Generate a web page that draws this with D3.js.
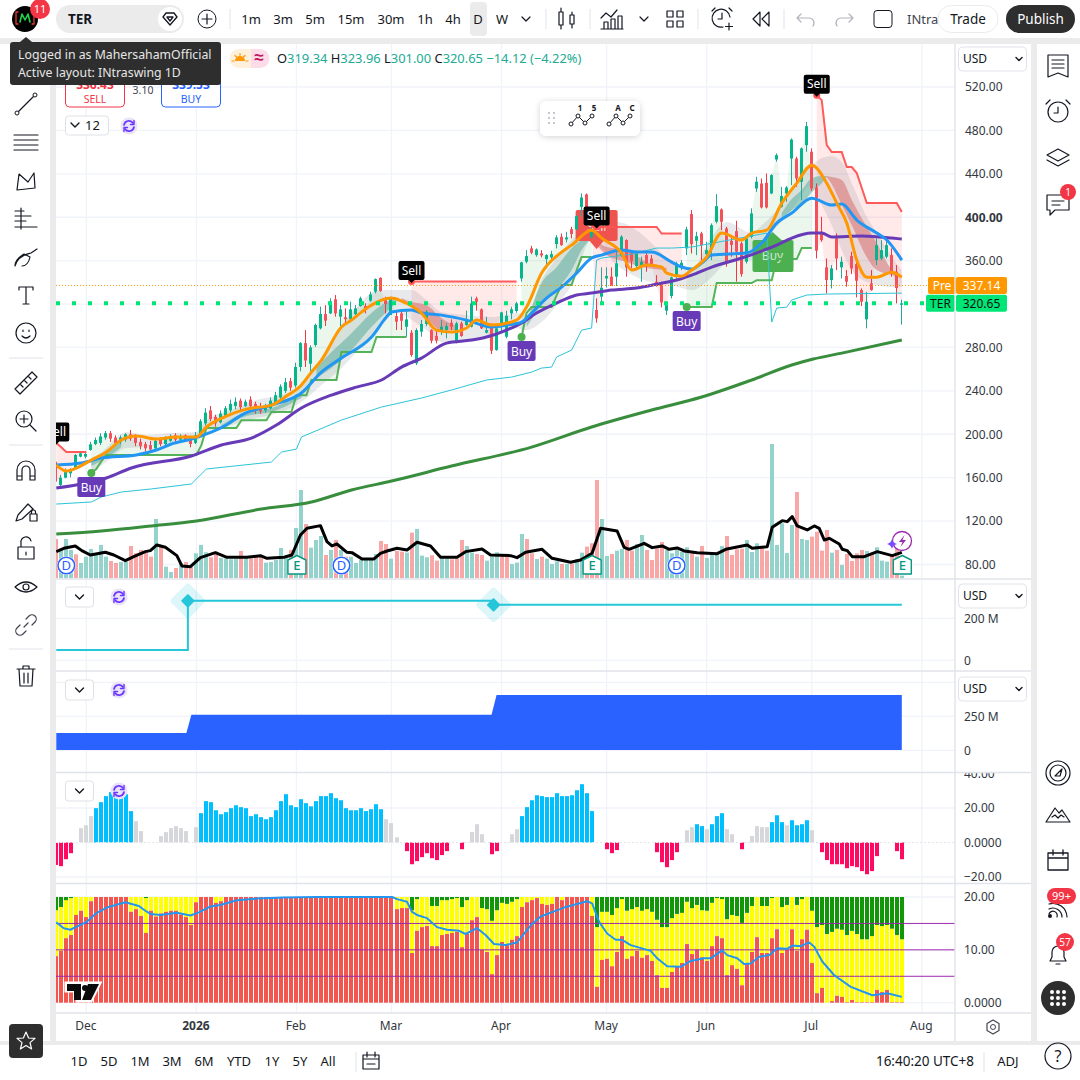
<!DOCTYPE html>
<html>
<head>
<meta charset="utf-8">
<script src="https://cdn.jsdelivr.net/npm/d3@7"></script>
<style>
  html, body { margin: 0; padding: 0; background: #fff; }
  svg { display: block; font-family: "Noto Sans", sans-serif; }
  .axis text { font-family: "Noto Sans", sans-serif; font-size: 12px; fill: #333740; }
  .axis path, .axis line { display: none; }
</style>
</head>
<body>
<svg id="canvas" width="1080" height="1080"></svg>
<script>
// ---------- chart data (bar 0 = first visible bar, bar 169 = last) ----------
const opens = [174.7,153.3,160,164,168.6,179.4,179.4,185.5,191,192,
  197,201,197,193,195,200,198,193,191,190,
  187,195,191,194,199,195,199,196,192,200,
  210,222,216,211,217,222,226,231,226,232,
  228,226,222,224,229,234,240,249,245,262,
  284,265,282.3,297.6,310.8,311.4,324.4,308.4,307.8,306,
  310.8,318.2,318.2,323.1,331.4,344.2,324.3,309.9,308.9,311.4,
  299.1,293.6,265.4,294.5,301.6,296,290.5,295.4,296,302.8,
  285.3,302.2,300.7,299.1,325.2,315.1,293.6,300.7,277.6,300.7,
  289.9,311.4,313.6,343.6,359,371.3,365.1,366.7,361.4,363,
  375.3,382,379.6,389,388.8,409.6,421,381.4,314.5,326.8,
  343.6,345.2,345.2,365.1,379,367.3,355,355.9,365.1,362,
  340.6,339,313.9,327.4,345.2,354.4,371.3,402.9,378.3,385.1,
  366,370.3,395.8,407.2,389.7,378.3,387.2,375.9,359,382,
  426.5,431.1,431.7,421.9,453.2,409.6,421.9,454.1,454.1,432.7,
  466.4,460.3,427.4,386.6,353.8,342.1,380.5,353.8,345.8,364.2,
  356.8,332.9,305.9,339,360.5,362,363.6,365.1,349.8,319.34];
const closes = [156.3,160,167,167.7,180.9,182.4,181.8,190.7,194.7,198,
  201,196,192,197,200,196,192,189,187,186,
  194,191,197,198,195,198,195,191,199,212,
  220,214,210,219,224,228,230,225,230,226,
  222,221,226,231,236,244,248,243,262,284,
  268,280,300.7,310.8,304.7,322.2,311.4,315.1,306,315.1,
  316,325.3,316,328.9,343,332,320,326.1,303.7,304.6,
  305.9,273,296,301.6,312.9,286.2,286.2,299.1,299.7,299.1,
  302.2,290.5,305.3,320.6,322.1,297.6,296,277,297.6,312.3,
  309.2,315.1,320.6,358.4,364.2,367.3,370.3,364.8,365.1,366,
  381.4,374.3,381.4,384.5,401,418.2,401,388.2,306.8,335,
  345.8,336.6,357.5,382,353.8,359.6,366.7,359,355,355.9,
  336.6,321.5,319,344.5,357.4,358,388.8,375.2,382.6,374.3,
  369.7,392.7,410.2,395.8,358,374.3,368.2,347.6,380.5,403.5,
  432.7,409,409,438.8,457.2,419.5,427.4,471.6,435.7,463.4,
  483.9,426.5,369.1,378.9,342.1,352.8,362,359,340.6,352.8,
  341.5,322.1,322.1,332.9,374.3,369.7,374.3,349.8,334.77,320.65];
const highs = [176,162.5,168.6,168.6,181.8,184,183,193,197,201,
  203,203,199,199,201,204,200,196,193,194,
  197,197,198,200,201,200,200,198,202,214,
  224,226,218,222,226,232,234,233,232,235,
  230,229,228,234,239,246,252,252,266,285,
  296,282,302,317.6,319,325.3,328.3,319.1,316,322.2,
  319.1,326.8,320.7,331.4,343.6,344.6,326.8,326.8,312.9,314.5,
  314.5,296,297.6,305.3,314.5,296.7,296,305.3,302.2,305.9,
  303.7,303.7,313.9,326.8,326.8,316,308.3,302.2,299.7,312.9,
  313.9,317.5,322.1,359,369.7,373.7,371.3,369.7,366,369.1,
  383.5,385,386.6,391.2,402,421.9,421.9,391.2,325.2,353.8,
  353.8,353.8,369.7,383.5,379.6,369.7,369.1,363.6,368.2,365.1,
  346.7,340.6,322.1,345.2,359,360.5,391.2,406.6,386.6,386.6,
  377.4,394.3,421.3,408.1,391.2,382,396.7,377.4,382,408.1,
  437.3,435.7,440.3,439.7,458.8,428,428.7,472.6,455.7,464.3,
  487.9,463.4,431.1,400.4,362,355.9,385.1,363.6,351.3,368.2,
  359,334.4,331.3,351.3,380.5,378.9,380.5,371.3,355.9,323.96];
const lows = [154.8,151.7,159.4,160.3,167.7,178.7,177.8,184.9,190,190,
  195,193,190,191,193,194,189,186,184,184,
  186,189,190,193,193,194,193,188,191,199,
  208,212,207,210,215,220,223,222,225,224,
  219,219,220,223,228,232,238,240,243,258,
  262,258,280.7,296.7,299.8,310.8,308.4,299.2,300.7,305.3,
  309.9,317.6,311.4,322.1,329.8,331.4,311.4,309.9,296,296,
  289.9,271.5,263.8,289.9,299.7,283.8,283.8,291.4,288.4,296,
  283.8,289.9,300,298.5,313.9,297,293,273.9,277,293,
  288.4,305.9,312,340.6,357.5,366,363.6,363,352.8,359,
  371.3,373.7,376.8,380.5,388.2,400.4,400.4,380.5,302.8,319,
  335.3,336.6,336.6,363.6,345.2,352.8,351.3,340.6,349.8,354.4,
  336,316.9,309.9,325.2,343.6,351.3,365.1,366.6,365.1,360.5,
  362,360.5,394.3,388.1,354.4,363.6,340.6,345.2,357.4,380.5,
  423.4,408.1,408.1,421.3,451.1,409,414.2,429.6,428,415.8,
  460.3,424.4,362,377.4,329.8,334.4,351.3,343.6,336,347.6,
  326.1,318.1,297.6,332.3,355.9,360.5,362,345.2,320.6,301];

// volume in 10k shares, "u"/"d" gives the colour of each bar
const volumes = [118,90,118,85,72,46,65,88,70,100,
  65,52,46,49,50,97,75,85,77,65,
  178,95,35,19,31,45,49,35,75,100,
  78,63,80,61,59,57,58,82,60,60,
  70,70,47,49,55,91,60,85,151,265,
  163,92,115,127,70,85,115,85,65,65,
  46,55,55,55,73,112,103,59,82,80,
  77,137,148,68,63,69,53,59,59,57,
  59,115,97,77,73,70,53,65,78,73,
  70,43,47,133,118,75,58,65,59,43,
  51,43,43,43,58,77,95,105,295,178,
  67,73,83,88,115,83,103,130,85,55,
  90,109,85,75,85,80,93,75,65,97,
  61,73,73,97,127,70,87,89,115,79,
  105,95,83,403,100,165,76,160,259,118,
  115,125,140,83,145,77,85,40,73,52,
  75,85,82,77,93,53,50,70,95,8];
const volumeDir = ["duuuduuuuu","udduuddddd","uduududduu","udduuuudud","dduuuuuduu","duuudududu","uuuuuddudd","uduuudduud","dduudduuud","duuudduduu",
  "ududuudddu","uduudduudd","dduuuuudud","uuuudddduu","udduuuuudu","uddddududd","dduduuuddu"].join("");
const volumeAvgIdx = [0,1.5,3.8,5.1,6.8,9.8,11.5,13.8,15.8,17.8,18.8,20.1,21.8,24.1,25.1,26.8,28.8,31.8,34.1,38.1,40.8,42.1,45.5,47.1,48.8,50.1,52.8,54.1,55.1,56.1,58.1,59.1,61.1,63.5,64.8,66.1,68.1,70.1,72.1,74.8,76.8,80.1,81.8,85.1,86.8,90.8,92.1,93.8,97.1,99.1,102.8,104.8,107.1,108.8,112.1,113.5,114.5,117.5,119.1,121.1,122.5,124.1,125.5,128.1,132.1,133.8,138.1,139.1,142.1,143.1,145.1,146.1,147.1,148.1,150.1,151.5,152.5,153.5,154.5,156.5,157.1,158.1,159.1,161.5,164.1,167.1,169];
const volumeAvgVal = [80,90,97,83,70,78,70,53,67,80,83,100,93,68,37,35,62,77,63,63,68,60,63,70,130,150,158,110,97,103,78,77,58,58,75,82,90,85,108,97,63,63,80,88,70,68,62,78,87,60,48,55,75,150,142,93,87,105,92,97,87,91,82,77,74,87,100,90,95,153,173,170,185,157,145,157,150,115,120,103,87,83,65,65,80,68,78];

// price lines, each one sampled at the bars listed beside it
const fastIdx = [0,2,4,7,10,13,16,20,24,28,30,34,38,43,46,49,51,53,57,59,61,63,67,69,73,76,79,82,84,87,92,94,97,101,103,107,109,113,115,118,121,122,125,127,130,133,137,139,142,145,148,151,154,156,158,160,162,164,167,169];
const fastVal = [171.7,166.1,168.9,176.3,183.6,194.7,198.4,195.6,197.4,197.4,206.7,216.8,223.2,226.9,235.2,245.4,257.3,268.4,298.8,305.2,312.6,319,325.5,322.7,311.7,296,294.2,297.9,305.2,300.6,305.2,317.2,348.5,367.9,374.3,388.1,380.8,366.9,351.3,355.9,354.1,348.5,345.7,351.3,363.3,385.4,379,385.4,388.1,413,431.4,448,431.4,413,394.6,360.5,344.8,344.8,349.4,344.8];
const midIdx = [0,5,9,16,20,23,27,34,37,43,49,53,57,63,66,67,71,73,77,82,87,90,93,95,98,101,104,107,109,113,116,119,123,125,127,129,131,138,141,144,147,151,155,157,160,164,166,169];
const midVal = [171.7,173.5,178.1,180.9,185.5,191,195.6,208.5,217.7,226.9,238,257.3,270.2,289.6,308,312.6,314.5,311.7,309.8,305.2,298.8,300.6,303.4,311.7,325.5,335.6,348.5,362.4,365.1,369.7,367.9,367.9,358.7,354.1,352.2,357.7,365.1,367,376.2,394.6,403.8,417.6,411.2,412.1,397.4,385.4,379,360.5];
const slowIdx = [0,10,15,27,33,39,44,49,55,60,65,69,73,78,83,86,90,93,96,100,104,107,111,116,121,124,127,131,137,144,147,151,153,155,161,167,169];
const slowVal = [150.5,159.7,168.9,180,190.1,196.5,208.5,224.2,236.1,243.5,250,261.9,270.2,284,286.8,289.6,296,302.5,311.7,320.9,328.3,330.1,332.9,334.7,339.3,342.1,346.7,354.1,362.4,374.3,380.8,385.4,385.4,381.7,382.6,380.8,379.9];
const longIdx = [0,9,19,28,41,51,59,67,79,95,107,119,129,139,147,151.3,157,169];
const longVal = [108.1,110.9,115.5,120.1,131.1,137.6,148.6,156.9,170.7,188.2,206.7,222.3,234.3,250,263.8,269.3,274.8,286.8];
const baseIdx = [0,7,9,13,19,27,30,43,45,48,49,57,65,73,79,86,91,95,97,99,100,103,105,107,108,109,115,120,123,127,142,143,144,146,147,150,154,169];
const baseVal = [135.7,137.6,142.2,146.8,149.6,154.2,168,174.4,183.6,186.4,197.5,213.1,225.1,233.4,240.8,250,252.7,257.3,261,261.9,271.2,277.6,296,297.9,360.5,362.4,366,371.6,371.6,372.5,385.4,303.4,316.3,317.2,323.7,328.3,329.2,330.1];

// trailing stop runs: first bar, last bar, price
const redStops = [[0,0,191.9],[1,1,188],[2,6,183.6],[71,92,340.7],[107,120,391],[121,125,385],[152,152,512.5],[153,153,507.9],[154,154,466.5],[155,157,460],[158,159,446.2],[160,160,440.7],[161,161,426.9],[162,168,413],[169,169,404.8]];
const greenStops = [[7,7,164.3],[8,8,168],[9,9,175],[10,28,181],[29,29,190],[30,36,205.8],[37,42,213],[43,47,220.5],[48,50,236],[51,56,250],[57,63,275.8],[64,70,289.6],[93,93,289.6],[94,94,311.7],[95,99,317.2],[100,100,328],[101,103,337.5],[104,104,351],[105,107,363.3],[126,131,317.2],[132,139,339.3],[140,143,342],[144,148,361.4],[149,151,371.6]];

// grey cloud: bar, upper, lower
const cloudBand = [[7,174.4,165.2],[10,187.3,174.4],[14,202,187.3],[18,199.3,188.2],[23,201.1,191.9],[28,202,194.7],[30,213.1,199.3],[35,222.3,208.5],[40,231.5,214.9],[45,236.1,220.5],[49,245.3,229.7],[53,268.4,245.3],[57,300.6,261],[60,316.3,275.7],[63,330.1,291.4],[66,332.9,309.8],[68,332.9,312.6],[71,332.9,305.2],[74,323.6,296],[77,312.6,284.9],[82,309.8,286.8],[87,308,289.6],[92,311.7,297.8],[94,309.8,296],[97,342.1,303.4],[100,362.3,319],[103,378.9,337.5],[107,392.7,378.9],[112,395.5,355.9],[116,388.1,344.8],[119,376.1,340.2],[123,358.6,337.5],[127,353.1,332.9],[131,381.7,344.8],[134,395.5,357.7],[139,385.4,360.5],[141,392.7,376.1],[144,406.5,390.9],[147,425,406.5],[151,448,429.6],[153,454.5,411.2],[155,456.3,392.7],[157,450.8,369.7],[159,431.4,351.3],[162,400.1,340.2],[164,385.4,337.5],[167,363.2,335.6],[169,351.3,335.6]];
// ribbons between the two cloud averages
const tealRibbons = [
  [[7,174.4,170.7],[10,183.6,178.1],[13,193.7,188.2]],
  [[33,208.5,205.7],[38,220.5,216.8],[43,224.1,220.5],[49,238.9,233.4]],
  [[52,261,251.8],[55,275.7,261],[59,293.2,277.6],[63,311.7,298.8],[66,321.8,312.6],[68,325.5,321.8]],
  [[94,302.5,298.8],[97,339.3,319],[100,354,332.9],[103,371.5,351.3],[105,378.9,369.7],[107,381.7,380.8]],
  [[145,403.8,399.2],[147,416.7,406.5],[149,425,412.1],[151,436,423.1],[153,437.9,431.4],[154,437.9,437]]];
const redRibbons = [
  [[69,325.5,323.6],[71,321.8,318.1],[74,319,307],[77,307,296],[80,299.7,296]],
  [[107,381.7,380.8],[110,372.5,365.1],[114,369.7,358.6],[118,358.6,353.1],[122,353.1,351.3]],
  [[154,437.9,437],[155,437,430.5],[157,434.2,411.2],[159,415.8,392.7],[162,390.9,363.2],[164,376.1,351.3],[167,351.3,346.7],[169,343.9,343.9]]];

const sellBars = [0,71,108,152];
const sellPrices = [191.9,340.7,391,512.5];
const buyBars = [7,93,126];
const buyPrices = [164.3,289.6,317.2];
const dividendBars = [2,57,124];
const earningsBars = [48,107,169];
const lastClose = 320.65;
const preClose = 337.14;

// second pane: step line (M), third pane: area (M)
const floatIdx = [0,26.3,26.3,87.4,87.4,169];
const floatVal = [49,49,283,283,264,264];
const floatChanges = [26.3,87.4];
const floatChangeVal = [283,264];
const sharesIdx = [0,26,27,87,88,169];
const sharesVal = [128,128,262,262,407,407];

// histogram pane
const histValues = [-13,-13.7,-9.7,-6.2,0,8.3,10,15.3,19.9,23.4,
  26.9,29.2,29,27.4,28,18.2,12.4,6.6,0,0,
  0,3.7,6,8.3,9.5,8.3,6.6,0,8.9,17,
  24,23.4,18.7,16.4,17.6,19.9,21.6,20.5,19.9,15.3,
  16.4,14.7,13.5,14.7,18.7,24,28,21.6,20.5,25.1,
  22.8,21,24,26.9,26.9,28.6,25.7,24.5,19.9,18.7,
  18.7,19.9,18.2,19.3,22.2,19.3,13.5,11.2,3,0,
  -5,-12.6,-10.8,-8.5,-6.2,-9.1,-10.2,-7.3,-5,0,
  0,-3.9,0,6,10.6,4.8,0,-6.8,-5,0,
  0,4.8,7.7,15.3,20.5,24.5,27.4,26.9,26.3,26.3,
  28.6,26.9,26.9,27.4,30.3,33.8,28.6,18.2,0,0,
  -3.9,-6.2,-4.4,0,0,0,0,0,0,0,
  -5.6,-11.4,-14.3,-10.2,-5.6,0,7.1,8.9,10.6,9.5,
  7.7,10.6,15.3,17,7.7,4.8,0,-3.9,0,3.7,
  9.5,8.9,8.9,11.8,15.8,11.8,10,12.9,10,10.6,
  12.9,7.1,0,-5.6,-10.2,-12.6,-12.6,-12.6,-14.9,-13.7,
  -14.3,-16.6,-18.4,-16.6,-7.9,0,0,0,-5,-9.7];
const histGreyBars = [5,6,7,16,17,21,22,23,24,25,26,28,66,67,68,83,84,85,91,92,126,127,130,134,135,139,140,141,142,146,151];

// bottom pane: red part from the floor, green part from the ceiling, yellow in between
const stackRed = [8.8,9.8,12.2,12.8,16.6,17.4,16.2,19.2,20,20,
  20,20,20,20,20,17.2,17.7,16.4,13.2,17.4,
  16.3,16.9,17.2,17.4,17.4,16.7,16.2,14.7,19,20,
  20,20,18.9,19.2,20,20,20,20,20,20,
  20,20,20,20,20,20,20,20,20,20,
  20,20,20,20,20,20,20,20,20,20,
  20,20,20,20,20,20,20,20,17.7,17.9,
  17.9,9.4,13.6,14.3,14.5,10.7,10.7,12.8,13,13.2,
  13.4,10.5,13,15.6,16.2,10,9.6,5.4,9,11.5,
  10.9,11.9,12.6,18.1,19,19.4,19.8,18.7,18.5,18.7,
  20,19.4,20,20,20,20,20,16.4,3,8.1,
  8.3,6.9,9.6,12.6,8.3,8.8,9.8,8.5,9,7.9,
  5.2,2.8,2.8,5.8,6.8,7.5,11.1,9.2,10,8.6,
  7.9,10.7,12.6,12.2,5.2,7.1,6.4,3.3,7.5,9.6,
  12.4,9.4,9.4,12.2,13.9,9.4,10,13.9,9.8,12,
  13.8,7.5,1.8,2.8,0,0.3,1.3,1.1,0.1,0.5,
  0.1,0.1,0.1,0.1,2.4,2,2.4,0.1,0.1,0.1];
const stackGreen = [2.5,1.9,0.6,0.2,0,0,0,0,0,0,
  0,0,0,0,0,0,0,0,0.2,0,
  0,0,0,0,0,0,0,0,0,0,
  0,0,0,0,0,0,0,0,0,0,
  0,0,0,0,0,0,0,0,0,0,
  0,0,0,0,0,0,0,0,0,0,
  0,0,0,0,0,0,0,0,0,0,
  0,2.5,0.4,0,0,1.7,1.7,0.6,0.6,0.4,
  0.2,1.9,0.6,0,0,2.1,2.3,4.5,2.5,1.1,
  1.3,0.9,0.4,0,0,0,0,0,0,0,
  0,0,0,0,0,0,0,0,5.7,2.8,
  2.8,3.4,2.1,0.4,2.6,2.3,1.9,2.6,2.3,2.8,
  4.3,5.7,5.7,4,3.2,3,0.9,2.1,1.5,2.5,
  2.6,1.1,0.2,0.4,4.2,3.4,3.6,4.9,3,1.7,
  0,1.7,1.7,0.2,0,1.9,1.5,0,1.5,0.4,
  0,2.6,5.7,5.3,7,6.6,6,6.2,7.2,6.4,
  7,8,8,7.4,5.3,5.5,5.3,6,7.2,8];
const stackAvgIdx = [0,1.5,2.8,4.5,6.1,8.1,10.1,13.8,16.5,17.8,18.8,20.8,24.1,26.8,28.5,30.8,32.8,36.1,40.1,45.5,52.1,67.1,68.1,70.1,71.1,72.1,74.1,76.1,78.1,80.5,81.8,84.1,85.8,87.5,89.8,92.1,93.8,94.8,96.8,101.5,106.1,107.1,108.5,110.1,111.8,113.1,114.8,118.8,120.1,122.1,124.8,126.8,129.5,130.8,133.1,134.1,136.1,137.5,138.8,140.5,142.5,144.1,146.1,147.1,148.8,150.5,151.5,153.1,155.5,158.8,163.1,166.1,169];
const stackAvgVal = [15.2,14.1,13.8,14.6,15.3,17,18,19,18.3,17.4,16.8,16.6,17,16.5,17.1,18.2,18.5,19.4,19.7,19.9,20,20,19.6,19.1,17.2,16.6,16,14.3,13.8,13.6,13,14.1,12.8,11.1,10.9,11.4,13.4,14.6,16.3,18,19.2,18.8,15.3,13.1,11.9,11.9,10.9,9.8,8.4,6.9,6.8,7.9,8.4,8.4,9.9,9,8.4,7.3,7.4,8.7,9,10.3,10.2,10.8,10.7,11.4,10.6,7.8,5.2,3,1.4,1.8,1.1];
const stackLevels = [5,10,15];

// axis labels
const monthBars = [6,28,48,67,89,110,130,151,173];
const monthLabels = ["Dec","2026","Feb","Mar","Apr","May","Jun","Jul","Aug"];
const priceTicks = [80,120,160,200,240,280,320,360,400,440,480,520];
const intervals = ["1m","3m","5m","15m","30m","1h","4h","D","W"];
const intervalX = [251,283,315,351,391,425,453,478,502];
const ranges = ["1D","5D","1M","3M","6M","YTD","1Y","5Y","All"];
const rangeX = [79,109,140,172,204,239,272,300,328];

// ---------- scales ----------
const x = d3.scaleLinear().domain([0, 169]).range([56.3, 901.8]);
const y = d3.scaleLinear().domain([80, 520]).range([564.5, 87]);
const yVol = d3.scaleLinear().domain([0, 403]).range([578.3, 444]);
const yFloat = d3.scaleLinear().domain([0, 200]).range([660.3, 618.3]);
const yShares = d3.scaleLinear().domain([0, 250]).range([750.3, 716.3]);
const yHist = d3.scaleLinear().domain([-20, 20]).range([877, 808]);
const yStack = d3.scaleLinear().domain([0, 20]).range([1002.7, 897]);
const barX = (i) => Math.round(x(i));

const svg = d3.select("#canvas");
const CHART_R = 955;
const line_color = "#e0e3eb", grid_color = "#f0f3fa", ink = "#131722";

// page chrome: grey gutters around white panels
svg.append("rect").attr("width", 1080).attr("height", 1080).attr("fill", "#ebebeb");
svg.append("rect").attr("x", 56).attr("y", 44).attr("width", 975).attr("height", 997).attr("fill", "#fff");
svg.append("rect").attr("width", 1080).attr("height", 38).attr("fill", "#fff");
svg.append("rect").attr("y", 44).attr("width", 50).attr("height", 997).attr("fill", "#fff");
svg.append("rect").attr("x", 1037).attr("y", 44).attr("width", 43).attr("height", 997).attr("fill", "#fff");
svg.append("rect").attr("y", 1045).attr("width", 1080).attr("height", 35).attr("fill", "#fff");

const defs = svg.append("defs");
defs.append("clipPath").attr("id", "plot").append("rect").attr("x", 56).attr("y", 44).attr("width", CHART_R - 56).attr("height", 534.5);
defs.append("clipPath").attr("id", "panes").append("rect").attr("x", 56).attr("y", 580).attr("width", CHART_R - 56).attr("height", 433);
defs.append("clipPath").attr("id", "histAxis").append("rect").attr("x", 956).attr("y", 773).attr("width", 75).attr("height", 110);
const shadow = defs.append("filter").attr("id", "shadow").attr("x", "-20%").attr("y", "-30%").attr("width", "140%").attr("height", "170%");
shadow.append("feDropShadow").attr("dx", 0).attr("dy", 1).attr("stdDeviation", 3).attr("flood-color", "#000").attr("flood-opacity", 0.18);

// ---------- grid ----------
const grid = svg.append("g");
function hGrid(scale, values) {
  grid.selectAll(null).data(values).enter().append("line")
    .attr("x1", 56).attr("x2", CHART_R)
    .attr("y1", (d) => scale(d)).attr("y2", (d) => scale(d))
    .attr("stroke", grid_color).attr("stroke-width", 1.3);
}
hGrid(y, priceTicks);
hGrid(yFloat, [0, 200]);
hGrid(yShares, [0, 250, 500]);
hGrid(yHist, [-20, 20]);
hGrid(yStack, [0, 10, 20]);
grid.selectAll(null).data(monthBars).enter().append("line")
  .attr("x1", (d) => x(d)).attr("x2", (d) => x(d))
  .attr("y1", 44).attr("y2", 1013)
  .attr("stroke", grid_color).attr("stroke-width", 1.3);

// ---------- volume ----------
const plot = svg.append("g").attr("clip-path", "url(#plot)");
plot.append("g").selectAll("rect").data(volumes).enter().append("rect")
  .attr("x", (d, i) => barX(i) - 2).attr("width", 4)
  .attr("y", (d) => yVol(d)).attr("height", (d) => yVol(0) - yVol(d))
  .attr("fill", (d, i) => (volumeDir[i] === "u" ? "#93d3cb" : "#f9a6a6"));

// ---------- trend fills, cloud, ribbons ----------
function expandStops(runs) {
  const out = new Array(closes.length).fill(null);
  runs.forEach(([a, b, p]) => { for (let i = a; i <= b; i++) out[i] = p; });
  return out;
}
const redStop = expandStops(redStops);
const greenStop = expandStops(greenStops);
function stopFill(stop, fill) {
  const area = d3.area().defined((d) => d != null)
    .x((d, i) => x(i)).y0((d) => y(d)).y1((d, i) => y(closes[i]));
  plot.append("path").attr("d", area(stop)).attr("fill", fill);
}
stopFill(redStop, "rgba(255,82,82,0.13)");
stopFill(greenStop, "rgba(76,175,80,0.11)");

const bandArea = d3.area().x((d) => x(d[0])).y0((d) => y(d[2])).y1((d) => y(d[1])).curve(d3.curveMonotoneX);
plot.append("path").attr("d", bandArea(cloudBand)).attr("fill", "rgba(120,123,134,0.17)");
plot.selectAll(null).data(tealRibbons).enter().append("path").attr("d", bandArea).attr("fill", "#62b0a1").attr("fill-opacity", 0.58);
plot.selectAll(null).data(redRibbons).enter().append("path").attr("d", bandArea).attr("fill", "#d9706e").attr("fill-opacity", 0.55);

// big translucent signal labels behind the candles
const bigSell = plot.append("g");
bigSell.append("path").attr("fill", "#ef5350")
  .attr("d", `M${x(108) - 19},210 h38 a2,2 0 0 1 2,2 v27 a2,2 0 0 1 -2,2 h-12 l-7,8 l-7,-8 h-12 a2,2 0 0 1 -2,-2 v-27 a2,2 0 0 1 2,-2 z`);
bigSell.append("text").attr("x", x(108)).attr("y", 231).attr("text-anchor", "middle").attr("font-size", 12).attr("fill", "#ffe4e4").text("Sell");
const bigBuy = plot.append("g");
bigBuy.append("path").attr("fill", "#4caf50")
  .attr("d", `M772.5,232 l9,8 h10 a2,2 0 0 1 2,2 v28 a2,2 0 0 1 -2,2 h-37 a2,2 0 0 1 -2,-2 v-28 a2,2 0 0 1 2,-2 h10 z`);
bigBuy.append("text").attr("x", 772.5).attr("y", 260).attr("text-anchor", "middle").attr("font-size", 12).attr("fill", "#cfe9cf").text("Buy");

// ---------- candles ----------
const isUp = (i) => closes[i] >= opens[i];
const candles = plot.append("g").selectAll("g").data(closes).enter().append("g");
candles.append("line")
  .attr("x1", (d, i) => barX(i) - 0.5).attr("x2", (d, i) => barX(i) - 0.5)
  .attr("y1", (d, i) => y(highs[i])).attr("y2", (d, i) => y(lows[i]))
  .attr("stroke", (d, i) => (isUp(i) ? "#26a69a" : "#f23645")).attr("stroke-width", 1);
candles.append("rect")
  .attr("x", (d, i) => barX(i) - 2).attr("width", 3)
  .attr("y", (d, i) => y(Math.max(opens[i], closes[i])))
  .attr("height", (d, i) => Math.max(1.2, Math.abs(y(opens[i]) - y(closes[i]))))
  .attr("fill", (d, i) => (isUp(i) ? "#06b58c" : "#f4525a"));

// ---------- lines ----------
function priceLine(idx, vals, color, width, curve) {
  const gen = d3.line().x((d, i) => x(idx[i])).y((d) => y(d)).curve(curve);
  plot.append("path").attr("d", gen(vals)).attr("fill", "none")
    .attr("stroke", color).attr("stroke-width", width).attr("stroke-linejoin", "round");
}
function stopLine(stop, color) {
  const gen = d3.line().defined((d) => d != null).x((d, i) => x(i)).y((d) => y(d));
  plot.append("path").attr("d", gen(stop)).attr("fill", "none").attr("stroke", color).attr("stroke-width", 2).attr("stroke-opacity", 0.95);
}
priceLine(baseIdx, baseVal, "#2cc4d8", 1, d3.curveLinear);
stopLine(greenStop, "#4caf50");
stopLine(redStop, "#ff5252");
priceLine(longIdx, longVal, "#388e3c", 3, d3.curveMonotoneX);
priceLine(slowIdx, slowVal, "#673ab7", 3, d3.curveMonotoneX);
priceLine(midIdx, midVal, "#2196f3", 3, d3.curveMonotoneX);
priceLine(fastIdx, fastVal, "#ff9800", 3, d3.curveMonotoneX);

// average volume line
plot.append("path")
  .attr("d", d3.line().x((d, i) => x(volumeAvgIdx[i])).y((d) => yVol(d))(volumeAvgVal))
  .attr("fill", "none").attr("stroke", "#000").attr("stroke-width", 3).attr("stroke-linejoin", "round");

// ---------- last price lines ----------
plot.append("line").attr("x1", 56).attr("x2", 930).attr("y1", y(preClose)).attr("y2", y(preClose))
  .attr("stroke", "#ff9800").attr("stroke-width", 1).attr("stroke-dasharray", "1 2");
plot.append("line").attr("x1", 56).attr("x2", 930).attr("y1", y(lastClose)).attr("y2", y(lastClose))
  .attr("stroke", "#00e676").attr("stroke-width", 4).attr("stroke-dasharray", "4 12");

// ---------- signal labels ----------
plot.selectAll(null).data(sellBars.slice(1)).enter().append("circle")
  .attr("cx", (d) => x(d)).attr("cy", (d, i) => y(sellPrices[i + 1]))
  .attr("r", 3.5).attr("fill", "#ff5252");
const sells = plot.selectAll(null).data(sellBars).enter().append("g")
  .attr("transform", (d, i) => `translate(${x(d)},${y(sellPrices[i]) - 11})`);
sells.append("path").attr("fill", "#000").attr("d", "M-11,-9.5 h22 a2,2 0 0 1 2,2 v15 a2,2 0 0 1 -2,2 h-8 l-3,3 l-3,-3 h-8 a2,2 0 0 1 -2,-2 v-15 a2,2 0 0 1 2,-2 z");
sells.append("text").attr("text-anchor", "middle").attr("y", 4).attr("font-size", 12).attr("fill", "#fff").text("Sell");

plot.selectAll(null).data(buyBars).enter().append("circle")
  .attr("cx", (d) => x(d)).attr("cy", (d, i) => y(buyPrices[i]))
  .attr("r", 4).attr("fill", "#4caf50");
const buys = plot.selectAll(null).data(buyBars).enter().append("g")
  .attr("transform", (d, i) => `translate(${x(d)},${y(buyPrices[i]) + 14})`);
buys.append("rect").attr("x", -14).attr("y", -10).attr("width", 28).attr("height", 20).attr("rx", 2).attr("fill", "#673ab7");
buys.append("text").attr("text-anchor", "middle").attr("y", 4.5).attr("font-size", 12).attr("fill", "#fff").text("Buy");

// dividends and earnings flags
const divs = svg.selectAll(null).data(dividendBars).enter().append("g")
  .attr("transform", (d) => `translate(${x(d)},565.5)`);
divs.append("circle").attr("r", 9.5).attr("fill", "#fff");
divs.append("circle").attr("r", 8.3).attr("fill", "#fff").attr("stroke", "#2962ff").attr("stroke-width", 1.5);
divs.append("text").attr("text-anchor", "middle").attr("y", 4.6).attr("font-size", 13).attr("fill", "#2962ff").text("D");
const earns = svg.selectAll(null).data(earningsBars).enter().append("g")
  .attr("transform", (d) => `translate(${x(d) + 0.5},565)`);
earns.append("path").attr("d", "M0,-9.5 L9,-5 V9 H-9 V-5 Z").attr("fill", "#fff").attr("stroke", "#089981").attr("stroke-width", 1.4).attr("stroke-linejoin", "round");
earns.append("text").attr("text-anchor", "middle").attr("y", 5).attr("font-size", 13).attr("font-weight", 500).attr("fill", "#089981").text("E");

// lightning + sparkle badge near the last bar
svg.append("circle").attr("cx", 902).attr("cy", 541).attr("r", 9.5).attr("fill", "#fff").attr("stroke", "#9c27b0").attr("stroke-width", 1.3);
svg.append("path").attr("d", "M904.5,535 l-5.5,7 h3.5 l-2,5 l5.5,-7 h-3.5 z").attr("fill", "#9c27b0");
svg.append("path").attr("d", "M892,539 q1,4 5,5 q-4,1 -5,5 q-1,-4 -5,-5 q4,-1 5,-5 z").attr("fill", "#7c4dff");

const panes = svg.append("g").attr("clip-path", "url(#panes)");

// ---------- float pane ----------
const floatLine = d3.line().x((d, i) => x(floatIdx[i])).y((d) => yFloat(d));
panes.append("path").attr("d", floatLine(floatVal)).attr("fill", "none").attr("stroke", "#26c6da").attr("stroke-width", 2);
const flips = panes.selectAll(null).data(floatChanges).enter().append("g")
  .attr("transform", (d, i) => `translate(${x(d)},${yFloat(floatChangeVal[i])})`);
flips.append("rect").attr("x", -13).attr("y", -13).attr("width", 26).attr("height", 26).attr("rx", 3).attr("transform", "rotate(45)").attr("fill", "#26c6da").attr("fill-opacity", 0.16);
flips.append("rect").attr("x", -5).attr("y", -5).attr("width", 10).attr("height", 10).attr("rx", 1).attr("transform", "rotate(45)").attr("fill", "#26c6da");

// ---------- shares pane ----------
const sharesArea = d3.area().x((d, i) => x(sharesIdx[i])).y0(750).y1((d) => yShares(d));
panes.append("path").attr("d", sharesArea(sharesVal)).attr("fill", "#2962ff");

// ---------- histogram pane ----------
panes.append("g").selectAll("rect").data(histValues).enter().append("rect")
  .attr("x", (d, i) => barX(i) - 2).attr("width", 4)
  .attr("y", (d) => Math.min(yHist(d), yHist(0)))
  .attr("height", (d) => Math.abs(yHist(d) - yHist(0)))
  .attr("fill", (d, i) => (d < 0 ? "#ff0a62" : histGreyBars.includes(i) ? "#d6d7db" : "#00bfff"));
panes.append("line").attr("x1", 56).attr("x2", CHART_R).attr("y1", yHist(0)).attr("y2", yHist(0))
  .attr("stroke", "#e4e6ec").attr("stroke-width", 1).attr("stroke-dasharray", "2 2");

// ---------- stacked pane ----------
const stackBars = panes.append("g").selectAll("g").data(stackRed).enter().append("g");
stackBars.append("rect").attr("x", (d, i) => barX(i) - 2).attr("width", 4)
  .attr("y", (d, i) => yStack(20 - stackGreen[i]))
  .attr("height", (d, i) => yStack(d) - yStack(20 - stackGreen[i])).attr("fill", "#ffff00");
stackBars.append("rect").attr("x", (d, i) => barX(i) - 2).attr("width", 4)
  .attr("y", (d) => yStack(d)).attr("height", (d) => yStack(0) - yStack(d)).attr("fill", "#f2564f");
stackBars.append("rect").attr("x", (d, i) => barX(i) - 2).attr("width", 4)
  .attr("y", yStack(20)).attr("height", (d, i) => yStack(20 - stackGreen[i]) - yStack(20)).attr("fill", "#129708");
panes.selectAll(null).data(stackLevels).enter().append("line")
  .attr("x1", 56).attr("x2", CHART_R).attr("y1", (d) => yStack(d)).attr("y2", (d) => yStack(d))
  .attr("stroke", "#9c27b0").attr("stroke-width", 1);
panes.append("path")
  .attr("d", d3.line().x((d, i) => x(stackAvgIdx[i])).y((d) => yStack(d))(stackAvgVal))
  .attr("fill", "none").attr("stroke", "#2196f3").attr("stroke-width", 2).attr("stroke-linejoin", "round");

// tradingview mark
const tvMark = svg.append("g").attr("transform", "translate(67,983)");
tvMark.append("path").attr("d", "M-1,0 H33 L24,18 H10 V8 H-1 Z").attr("fill", "#fff").attr("stroke", "#fff").attr("stroke-width", 3);
tvMark.append("path").attr("d", "M0,1 H14 V17 H7 V8 H0 Z M21,1 H32 L24,17 H15 Z").attr("fill", "#0b0b0b");
tvMark.append("circle").attr("cx", 18).attr("cy", 5).attr("r", 3).attr("fill", "#0b0b0b");

// ---------- axes ----------
const fmt2 = d3.format(".2f");
const axisFmt = (d) => (d === 0 ? "0.0000" : fmt2(d).replace("-", "\u2212"));
const priceAxis = svg.append("g").attr("class", "axis").attr("transform", "translate(965,0)")
  .call(d3.axisRight(y).tickValues(priceTicks.filter((d) => d !== 320)).tickSize(0).tickPadding(0).tickFormat(fmt2));
priceAxis.selectAll("text").filter((d) => d === 400).style("font-weight", 700);
svg.append("g").attr("class", "axis").attr("transform", "translate(964,0)")
  .call(d3.axisRight(yFloat).tickValues([0, 200]).tickSize(0).tickPadding(0).tickFormat((d) => (d ? d + " M" : "0")));
svg.append("g").attr("class", "axis").attr("transform", "translate(964,0)")
  .call(d3.axisRight(yShares).tickValues([0, 250]).tickSize(0).tickPadding(0).tickFormat((d) => (d ? d + " M" : "0")));
svg.append("g").attr("clip-path", "url(#histAxis)").append("g").attr("class", "axis").attr("transform", "translate(964,0)")
  .call(d3.axisRight(yHist).tickValues([-20, 0, 20, 40]).tickSize(0).tickPadding(0).tickFormat(axisFmt));
svg.append("g").attr("class", "axis").attr("transform", "translate(964,0)")
  .call(d3.axisRight(yStack).tickValues([0, 10, 20]).tickSize(0).tickPadding(0).tickFormat(axisFmt));
const timeAxis = svg.append("g").attr("class", "axis").attr("transform", "translate(-1,1021)")
  .call(d3.axisBottom(x).tickValues(monthBars).tickSize(0).tickPadding(0).tickFormat((d, i) => monthLabels[i]));
timeAxis.selectAll("text").filter((d, i) => i === 1).style("font-weight", 700);

// price badges
function badge(bx, w, cy, fill, label, color) {
  svg.append("rect").attr("x", bx).attr("y", cy - 8.5).attr("width", w).attr("height", 17).attr("rx", 2).attr("fill", fill);
  svg.append("text").attr("x", bx + w / 2).attr("y", cy + 4.5).attr("text-anchor", "middle").attr("font-size", 12).attr("fill", color).text(label);
}
badge(928, 28, y(preClose), "#ff9800", "Pre", "#fff");
badge(956, 51, y(preClose), "#ff9800", fmt2(preClose), "#fff");
badge(926, 29, y(lastClose), "#00e676", "TER", "#111");
badge(956, 51, y(lastClose), "#00e676", fmt2(lastClose), "#111");

// pane borders
[579, 671, 772.5, 883.5, 1013].forEach((py) => {
  svg.append("line").attr("x1", 56).attr("x2", 1031).attr("y1", py).attr("y2", py).attr("stroke", line_color).attr("stroke-width", 1.4);
});
svg.append("line").attr("x1", CHART_R).attr("x2", CHART_R).attr("y1", 44).attr("y2", 1041).attr("stroke", line_color).attr("stroke-width", 1.4);

// ---------- furniture ----------
function label(tx, ty, txt, size, color, anchor, weight) {
  return svg.append("text").attr("x", tx).attr("y", ty).attr("font-size", size).attr("fill", color || ink)
    .attr("text-anchor", anchor || "start").attr("font-weight", weight || 400).text(txt);
}
function icon(cx, cy, d, opts) {
  const o = opts || {};
  return svg.append("path").attr("transform", `translate(${cx},${cy})`).attr("d", d)
    .attr("fill", o.fill || "none").attr("stroke", o.stroke || ink).attr("stroke-width", o.w || 1.2)
    .attr("stroke-linecap", "round").attr("stroke-linejoin", "round");
}
const chevron = "M-4,-2 L0,2 L4,-2";

// USD badges
[59, 596, 689].forEach((cy) => {
  svg.append("rect").attr("x", 958.5).attr("y", cy - 12).attr("width", 68).attr("height", 24).attr("rx", 4).attr("fill", "#fff").attr("stroke", "#e0e3eb");
  label(963, cy + 4, "USD", 12, ink);
  icon(1019, cy, "M-3,-1.5 L0,1.5 L3,-1.5", { w: 1.4 });
});

// pane collapse buttons and refresh marks
function refresh(cx, cy) {
  svg.append("circle").attr("cx", cx).attr("cy", cy).attr("r", 8.5).attr("fill", "#e9e3f8");
  icon(cx, cy, "M-5,-1 A5,5 0 0 1 4,-3 M5,1 A5,5 0 0 1 -4,3", { stroke: "#6a35ff", w: 1.7 });
  icon(cx, cy, "M5,-5.5 V-1.5 H1.5 M-5,5.5 V1.5 H-1.5", { stroke: "#6a35ff", w: 1.4 });
}
[597, 690, 791].forEach((cy) => {
  svg.append("rect").attr("x", 65.5).attr("y", cy - 10).attr("width", 28).attr("height", 20).attr("rx", 3).attr("fill", "#fff").attr("stroke", "#dfe1e6");
  icon(79.5, cy, chevron, { w: 1.4 });
  refresh(119, cy);
});
svg.append("rect").attr("x", 65.5).attr("y", 116).attr("width", 43).attr("height", 19).attr("rx", 3).attr("fill", "#fff").attr("stroke", "#dfe1e6");
icon(75, 125, chevron, { w: 1.4 });
label(85, 130, "12", 13, ink);
refresh(129, 126);

// sell / buy trade buttons
svg.append("rect").attr("x", 65.5).attr("y", 70).attr("width", 59).attr("height", 37).attr("rx", 4).attr("fill", "#fff").attr("stroke", "#f23645");
svg.append("rect").attr("x", 161.5).attr("y", 70).attr("width", 59).attr("height", 37).attr("rx", 4).attr("fill", "#fff").attr("stroke", "#2962ff");
label(95, 89, "336.43", 12, "#f23645", "middle", 700);
label(95, 103, "SELL", 10.5, "#f23645", "middle");
label(143, 94, "3.10", 10.5, "#434651", "middle");
label(191, 89, "339.53", 12, "#2962ff", "middle", 700);
label(191, 103, "BUY", 10.5, "#2962ff", "middle");

// legend row
svg.append("path").attr("d", "M239,49 h12 v19 h-12 a9.5,9.5 0 0 1 0,-19 z").attr("fill", "#fff0dc");
svg.append("path").attr("d", "M251,49 h9 a9.5,9.5 0 0 1 0,19 h-9 z").attr("fill", "#fbdce8");
svg.append("path").attr("d", "M235,61 a5,5 0 0 1 10,0 z").attr("fill", "#ff9800");
icon(240, 58.5, "M-8,2.5 h2 M6,2.5 h2 M-5,-3 l1.5,1.5 M5,-3 l-1.5,1.5 M0,-5 v1.8", { stroke: "#ff9800" });
label(259, 63, "\u2248", 17, "#c2185b", "middle", 700);
const legend = svg.append("text").attr("x", 277).attr("y", 63).attr("font-size", 12.9);
[["O", ink], ["319.34 ", "#22ab94"], ["H", ink], ["323.96 ", "#22ab94"], ["L", ink], ["301.00 ", "#22ab94"], ["C", ink], ["320.65 ", "#22ab94"], ["\u221214.12 (\u22124.22%)", "#22ab94"]]
  .forEach(([t, c]) => legend.append("tspan").attr("fill", c).text(t));

// floating pattern toolbar
svg.append("rect").attr("x", 540).attr("y", 101).attr("width", 100).attr("height", 35).attr("rx", 6).attr("fill", "#fff").attr("filter", "url(#shadow)");
d3.range(3).forEach((r) => [0, 1].forEach((c) => svg.append("circle").attr("cx", 549 + c * 5).attr("cy", 113 + r * 5).attr("r", 1).attr("fill", "#b2b5be")));
function wave(ox, a, b) {
  const pts = [[0, 9], [7, 1], [14, 8], [21, 1]];
  svg.append("path").attr("transform", `translate(${ox},115)`).attr("d", d3.line()(pts)).attr("fill", "none").attr("stroke", ink);
  svg.selectAll(null).data(pts).enter().append("circle").attr("transform", `translate(${ox},115)`)
    .attr("cx", (d) => d[0]).attr("cy", (d) => d[1]).attr("r", 2).attr("fill", "#fff").attr("stroke", ink);
  label(ox + 9, 111, a, 8, ink, "middle", 700);
  label(ox + 23, 111, b, 8, ink, "middle", 700);
}
wave(571, "1", "5");
wave(609, "A", "C");

// ---------- top bar ----------
svg.append("circle").attr("cx", 25).attr("cy", 19).attr("r", 13).attr("fill", "#000");
icon(25, 18, "M-5,4 L-3,-4 L0,2 L3,-4 L5,4", { stroke: "#21d14a", w: 1.6 });
icon(25, 18, "M-7,-6 h-2 v12 h2 M7,-6 h2 v12 h-2", { stroke: "#e53935", w: 1.3 });
svg.append("circle").attr("cx", 40).attr("cy", 9).attr("r", 10).attr("fill", "#f23645");
label(40, 13, "11", 11, "#fff", "middle");
svg.append("rect").attr("x", 56).attr("y", 5).attr("width", 128).attr("height", 28).attr("rx", 14).attr("fill", "#ebebeb");
label(68, 24, "TER", 13.5, ink, "start", 700);
svg.append("circle").attr("cx", 170).attr("cy", 19).attr("r", 12).attr("fill", "#fff");
icon(170, 19, "M-7,-2 L-4,-6 H4 L7,-2 L0,6 Z M-3,-2 L0,2 L3,-2 Z", { w: 1.3 });
svg.append("circle").attr("cx", 207).attr("cy", 19).attr("r", 9).attr("fill", "#fff").attr("stroke", ink);
icon(207, 19, "M-5,0 H5 M0,-5 V5");

svg.append("rect").attr("x", 470).attr("y", 2).attr("width", 17).attr("height", 34).attr("rx", 4).attr("fill", "#ebebeb");
intervals.forEach((t, i) => label(intervalX[i], 24, t, 13, ink, "middle"));
icon(526, 19, chevron, { w: 1.2 });
[230, 546, 590, 698, 784].forEach((sx) => svg.append("line").attr("x1", sx).attr("x2", sx).attr("y1", 9).attr("y2", 29).attr("stroke", "#e0e3eb"));
icon(567, 19, "M-6,-11 V-7 M-6,10 V6 M-8,-7 H-4 V6 H-8 Z M5,-7 V-4 M5,9 V5 M3,-4 H7 V5 H3 Z");
icon(612, 19, "M-11,-1 L-6,-6 L-1,-2 L5,-9 M-8,10 V3 H-4 V10 M-1,10 V0 H3 V10 M6,10 V-3 H10 V10 M-11,10 H11");
icon(644, 19, chevron);
icon(675, 19, "M-8,-8 H-2 V-2 H-8 Z M2,-8 H8 V-2 H2 Z M-8,2 H-2 V8 H-8 Z M2,2 H8 V8 H2 Z");
icon(722, 19, "M8,-2 A9,9 0 1 0 1,8 M0,-6 V0 H-4 M-10,-8 L-7,-11 M10,-8 L7,-11 M7,4 V11 M3.5,7.5 H10.5");
icon(761, 19, "M-1,-7 L-8,0 L-1,7 Z M8,-7 L1,0 L8,7 Z");
icon(806, 19, "M-5,-5 L-9,-1 L-5,3 M-9,-1 H3 A5,5 0 0 1 7,7", { stroke: "#b2b5be" });
icon(844, 19, "M5,-5 L9,-1 L5,3 M9,-1 H-3 A5,5 0 0 0 -7,7", { stroke: "#b2b5be" });
svg.append("rect").attr("x", 874).attr("y", 10.5).attr("width", 18).attr("height", 17).attr("rx", 3).attr("fill", "none").attr("stroke", ink);
label(907, 24, "INtra", 13, "#434651");
svg.append("rect").attr("x", 938).attr("y", 5.5).attr("width", 60).attr("height", 27).attr("rx", 13.5).attr("fill", "#fff").attr("stroke", "#ebebeb");
label(968, 24, "Trade", 13.5, ink, "middle");
svg.append("rect").attr("x", 1006).attr("y", 5).attr("width", 69).attr("height", 28).attr("rx", 14).attr("fill", "#2e2e2e");
label(1040.5, 24, "Publish", 13.5, "#fff", "middle");

// ---------- left toolbar ----------
const tx = 26;
icon(tx, 104, "M-9,9 L9,-9");
svg.append("circle").attr("cx", tx - 9).attr("cy", 113).attr("r", 2).attr("fill", "#fff").attr("stroke", ink);
svg.append("circle").attr("cx", tx + 9).attr("cy", 95).attr("r", 2).attr("fill", "#fff").attr("stroke", ink);
icon(tx, 143, "M-12,-8 H12 M-12,-3 H12 M-12,2 H12 M-12,7 H12");
icon(tx, 181, "M-9,9 L-7,-7 L2,1 L8,-8 L9,7 Z");
icon(tx, 219, "M-11,-8 H-2 M-11,-3 H5 M-11,2 H0 M-11,8 H11 M-5,-11 V10");
icon(tx, 258, "M-11,8 C-8,-3 2,-4 5,-5 L11,-9 M-4,8 C0,8 3,4 4,-1 L-2,-4 C-7,-1 -11,3 -11,8");
icon(tx, 295, "M-7,-8 H7 V-5 M-7,-8 V-5 M0,-8 V9 M-3,9 H3");
svg.append("circle").attr("cx", tx).attr("cy", 333).attr("r", 10).attr("fill", "none").attr("stroke", ink).attr("stroke-width", 1.2);
icon(tx, 333, "M-4,3 Q0,7 4,3 M-3,-3 V-1.5 M3,-3 V-1.5");
[358, 445, 649].forEach((sy) => svg.append("line").attr("x1", 9).attr("x2", 43).attr("y1", sy).attr("y2", sy).attr("stroke", "#e0e3eb"));
icon(tx, 383, "M-11,6 L6,-11 L11,-6 L-6,11 Z M-6,1 L-3,4 M-2,-3 L1,0 M2,-7 L5,-4");
svg.append("circle").attr("cx", tx - 2).attr("cy", 419).attr("r", 8).attr("fill", "none").attr("stroke", ink).attr("stroke-width", 1.2);
icon(tx, 421, "M4,4 L10,10 M-6,-2 H2 M-2,-6 V2");
icon(tx, 472, "M-9,8 V-2 A9,9 0 0 1 9,-2 V8 H4 V-2 A4,4 0 0 0 -4,-2 V8 Z M-9,4 H-4 M4,4 H9");
icon(tx, 511, "M-10,10 L-8,4 L2,-7 L7,-2 L-4,8 Z M4,3 H11 V10 H4 Z M5.5,3 V1 A2,2 0 0 1 9.5,1 V3");
icon(tx, 549, "M-8,-2 H8 V10 H-8 Z M-5,-2 V-6 A5,5 0 0 1 5,-8 M0,3 V6");
icon(tx, 587, "M-11,0 Q0,-10 11,0 Q0,10 -11,0 Z");
svg.append("circle").attr("cx", tx).attr("cy", 587).attr("r", 3).attr("fill", "none").attr("stroke", ink).attr("stroke-width", 1.2);
icon(tx, 625, "M-2,2 L2,-2 M-6,0 L-9,3 A3.5,3.5 0 0 0 -3,9 L0,6 M6,0 L9,-3 A3.5,3.5 0 0 0 3,-9 L0,-6", { stroke: "#434651" });
icon(tx, 676, "M-9,-7 H9 M-3,-7 V-10 H3 V-7 M-7,-7 L-6,10 H6 L7,-7 M-2,-3 V7 M2,-3 V7");
svg.append("rect").attr("x", 9).attr("y", 1024).attr("width", 34).attr("height", 34).attr("rx", 4).attr("fill", "#2e2e2e");
icon(26, 1041, "M0,-9 L2.6,-3 L9,-2.6 L4,1.6 L5.6,8 L0,4.6 L-5.6,8 L-4,1.6 L-9,-2.6 L-2.6,-3 Z", { stroke: "#fff" });

// ---------- right toolbar ----------
const rx = 1058;
function redDot(cx, cy, r, t) {
  svg.append("circle").attr("cx", cx).attr("cy", cy).attr("r", r).attr("fill", "#f23645");
  label(cx, cy + 3.5, t, 10, "#fff", "middle");
}
icon(rx, 66, "M-10,-11 H10 V11 L0,7 L-10,11 Z M-6,-6 H6 M-6,-2 H6 M-6,2 H6");
svg.append("circle").attr("cx", rx).attr("cy", 112).attr("r", 10).attr("fill", "none").attr("stroke", ink).attr("stroke-width", 1.2);
icon(rx, 112, "M0,-5 V1 H-4 M-12,-8 L-8,-12 M12,-8 L8,-12");
icon(rx, 158, "M0,-9 L11,-3 L0,3 L-11,-3 Z M-11,2 L0,8 L11,2");
icon(rx, 204, "M-11,-9 H11 V6 H-3 L-8,11 V6 H-11 Z M-6,-3 H6 M-6,1 H2");
redDot(1068, 192, 8, "1");
svg.append("circle").attr("cx", rx).attr("cy", 773).attr("r", 12).attr("fill", "none").attr("stroke", ink).attr("stroke-width", 1.2);
svg.append("circle").attr("cx", rx).attr("cy", 773).attr("r", 8).attr("fill", "none").attr("stroke", ink).attr("stroke-width", 1.2);
icon(rx, 773, "M-3,3 L4,-4 L2,3 Z");
icon(rx, 815, "M-12,7 L-3,-7 L1,-2 L4,-5 L12,7 Z M-6,2 L-3,0 L0,3 L3,0 L6,2");
icon(rx, 860, "M-10,-7 H10 V10 H-10 Z M-10,-2 H10 M-5,-10 V-5 M5,-10 V-5", { w: 1.3 });
icon(rx, 909, "M-9,-5 A14,14 0 0 1 9,8 M-9,0 A9,9 0 0 1 4,8 M-9,5 A4,4 0 0 1 -1,8");
svg.append("circle").attr("cx", rx - 8).attr("cy", 916).attr("r", 2).attr("fill", ink);
svg.append("rect").attr("x", 1047).attr("y", 888).attr("width", 29).attr("height", 16).attr("rx", 8).attr("fill", "#f23645");
label(1061.5, 900, "99+", 11, "#fff", "middle");
icon(rx, 954, "M-8,7 H8 L6,3 V-2 A6,6 0 0 0 -6,-2 V3 Z M-2,10 H2");
redDot(1065, 942, 9, "57");
svg.append("circle").attr("cx", rx).attr("cy", 998).attr("r", 17).attr("fill", "#2e2e2e");
d3.range(3).forEach((r) => d3.range(3).forEach((c) => svg.append("circle").attr("cx", rx - 6 + c * 6).attr("cy", 992 + r * 6).attr("r", 2).attr("fill", "#fff")));
svg.append("circle").attr("cx", rx).attr("cy", 1056).attr("r", 13).attr("fill", "none").attr("stroke", ink).attr("stroke-width", 1.2);
label(rx, 1062, "?", 16, ink, "middle");

// ---------- bottom bar ----------
ranges.forEach((t, i) => label(rangeX[i], 1066, t, 13, ink, "middle"));
icon(371, 1061, "M-8,-6 H8 V8 H-8 Z M-8,-2 H8 M-4,-9 V-4 M4,-9 V-4 M-4,3 H4");
[356].forEach((sx) => svg.append("line").attr("x1", sx).attr("x2", sx).attr("y1", 1052).attr("y2", 1072).attr("stroke", "#e0e3eb"));
label(925, 1066, "16:40:20 UTC+8", 13.5, ink, "middle");
svg.append("line").attr("x1", 984).attr("x2", 984).attr("y1", 1052).attr("y2", 1072).attr("stroke", "#e0e3eb");
label(1008, 1066, "ADJ", 13, ink, "middle");
svg.append("circle").attr("cx", 993).attr("cy", 1027).attr("r", 2.5).attr("fill", "none").attr("stroke", "#434651");
icon(993, 1027, "M0,-7 L6,-3.5 V3.5 L0,7 L-6,3.5 V-3.5 Z", { stroke: "#434651" });

// tooltip over the top left corner
svg.append("path").attr("d", "M20,42 L26,37 L32,42 Z").attr("fill", "#2e2e2e");
svg.append("rect").attr("x", 10).attr("y", 42).attr("width", 211).attr("height", 43).attr("rx", 3).attr("fill", "#2e2e2e");
label(18, 59, "Logged in as MahersahamOfficial", 12.3, "#e6e6e6");
label(18, 77, "Active layout: INtraswing 1D", 12.3, "#e6e6e6");
</script>
</body>
</html>
